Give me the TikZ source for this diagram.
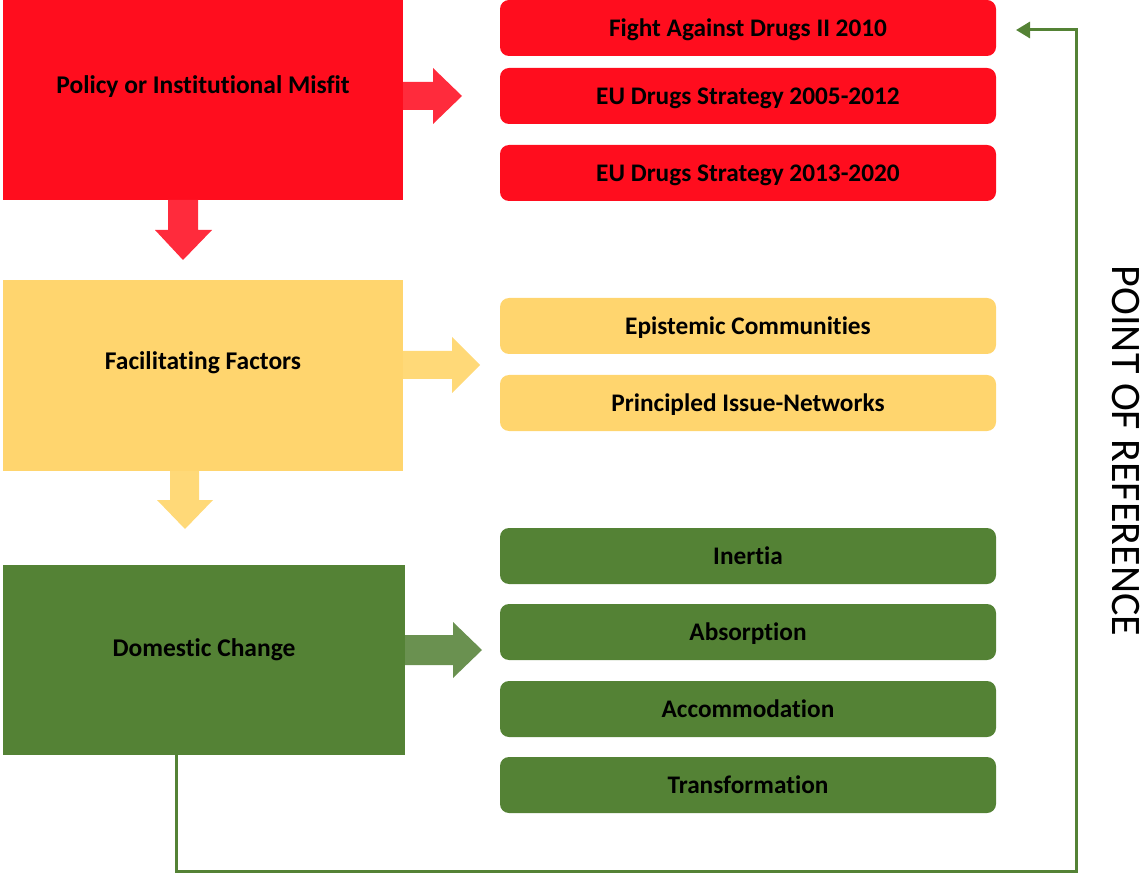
\documentclass[tikz,border=0pt]{standalone}
\usepackage{fontspec}
\setmainfont{Carlito}[Ligatures=NoCommon]
\usetikzlibrary{arrows.meta,calc}
\definecolor{boxred}{HTML}{FF0D1E}
\definecolor{arrred}{HTML}{FF2B3C}
\definecolor{boxyel}{HTML}{FFD56E}
\definecolor{arryel}{HTML}{FFD978}
\definecolor{boxgrn}{HTML}{548235}
\definecolor{arrgrn}{HTML}{6A9150}
\begin{document}
\begin{tikzpicture}[x=1pt,y=-1pt,
  bigbox/.style={minimum width=400pt, inner sep=0pt, outer sep=0pt,
    font=\fontsize{25.5}{30}\selectfont\bfseries, text height=20pt, text depth=32pt},
  itembox/.style={rounded corners=9pt, minimum width=496pt, minimum height=56pt,
    inner sep=0pt, outer sep=0pt, font=\fontsize{25.3}{30}\selectfont\bfseries,
    text height=18pt, text depth=1pt},
  feedback/.style={draw=boxgrn, line width=3pt, -{Triangle[length=14pt,width=16pt]}},
]
\useasboundingbox (0,0) rectangle (1143,874);

% big boxes
\node[bigbox, fill=boxred, minimum height=200pt] (policy) at (203,100) {Policy or Institutional Misfit};
\node[bigbox, fill=boxyel, minimum height=191pt] (facil) at (203,375.5) {Facilitating Factors};
\node[bigbox, fill=boxgrn, minimum width=402pt, minimum height=190pt, text depth=27pt] (domestic) at (204,660) {Domestic Change};

% item boxes
\node[itembox, fill=boxred] (fight) at (748,28) {Fight Against Drugs II 2010};
\node[itembox, fill=boxred] (eu1) at (748,96) {EU Drugs Strategy 2005-2012};
\node[itembox, fill=boxred] (eu2) at (748,173) {EU Drugs Strategy 2013-2020};
\node[itembox, fill=boxyel] (epi) at (748,326) {Epistemic Communities};
\node[itembox, fill=boxyel] (pin) at (748,403) {Principled Issue-Networks};
\node[itembox, fill=boxgrn] (inertia) at (748,556) {Inertia};
\node[itembox, fill=boxgrn] (absorp) at (748,632) {Absorption};
\node[itembox, fill=boxgrn] (accom) at (748,709) {Accommodation};
\node[itembox, fill=boxgrn] (transf) at (748,785) {Transformation};

% block arrows: right
\fill[arrred] (policy.east |- 0,82) -- (433,82) -- (433,68) -- (462,96) -- (433,124) -- (433,110) -- (policy.east |- 0,110) -- cycle;
\fill[arryel] (facil.east |- 0,351) -- (452,351) -- (452,337) -- (480,365) -- (452,393) -- (452,379) -- (facil.east |- 0,379) -- cycle;
\fill[arrgrn] (domestic.east |- 0,635) -- (453,635) -- (453,622) -- (482,650) -- (453,678) -- (453,665) -- (domestic.east |- 0,665) -- cycle;

% block arrows: down
\fill[arrred] (168,0 |- policy.south) -- (168,230) -- (155,230) -- (183,260) -- (212,230) -- (198,230) -- (198,0 |- policy.south) -- cycle;
\fill[arryel] (170,0 |- facil.south) -- (170,500) -- (157,500) -- (185,529) -- (213,500) -- (199,500) -- (199,0 |- facil.south) -- cycle;

% feedback connector
\coordinate (fbstart) at (176,0 |- domestic.south);
\coordinate (fbend) at ($(fight.east)+(20,2)$);
\draw[feedback] (fbstart) -- (176,871) -- (1076,871) -- (1076,30) -- (fbend);

% side label
\node[rotate=-90, font=\fontsize{42}{48}\selectfont, inner sep=0pt] (por) at (1126,451) {POINT OF REFERENCE};
\end{tikzpicture}
\end{document}
